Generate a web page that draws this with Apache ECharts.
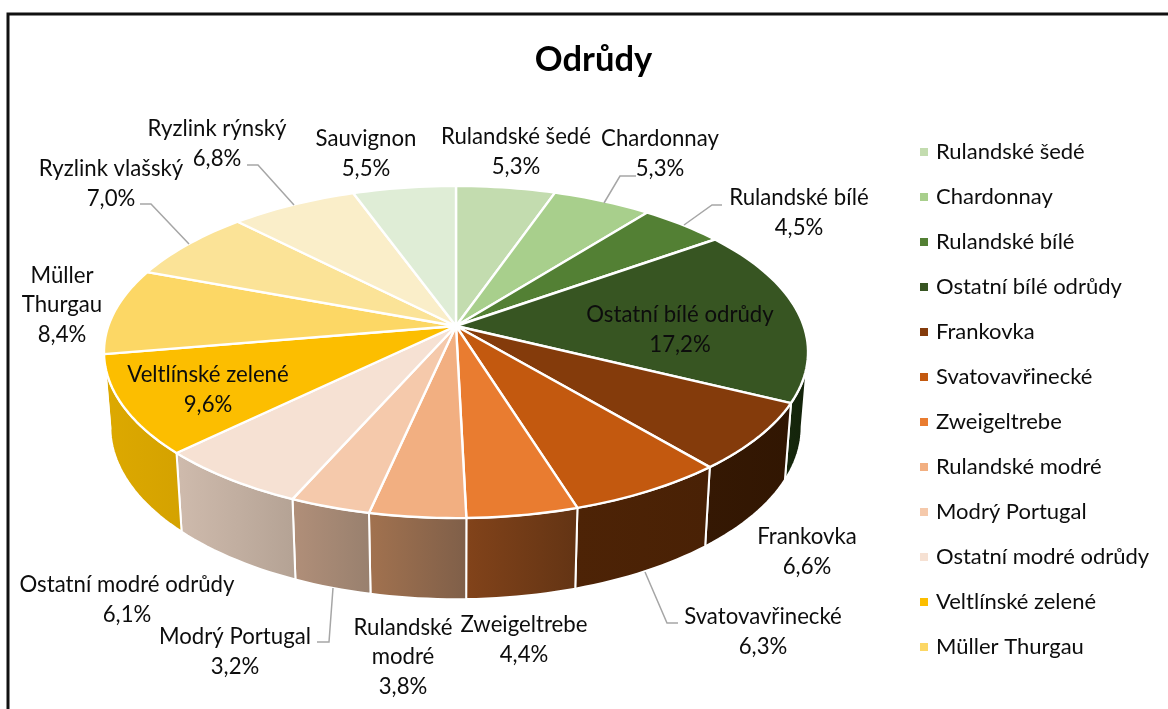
<!DOCTYPE html>
<html><head><meta charset="utf-8">
<style>html,body{margin:0;padding:0;background:#fff}#c{width:1168px;height:709px}</style>
<script src="https://cdn.jsdelivr.net/npm/echarts@6/dist/echarts.min.js"></script>
</head><body><div id="c"></div>
<script>
const categories = ['Rulandské šedé','Chardonnay','Rulandské bílé','Ostatní bílé odrůdy','Frankovka','Svatovavřinecké','Zweigeltrebe','Rulandské modré','Modrý Portugal','Ostatní modré odrůdy','Veltlínské zelené','Müller Thurgau','Ryzlink vlašský','Ryzlink rýnský','Sauvignon'];
const values = [5.3,5.3,4.5,17.2,6.6,6.3,4.4,3.8,3.2,6.1,9.6,8.4,7.0,6.8,5.5];
const legendNames = categories.slice(0,12);
const topColors = ['#C3DCAF','#A8CF8C','#538034','#375522','#843B0B','#C3590F','#E97C30','#F2AF81','#F5C9AB','#F6E1D3','#FCBE00','#FCD765','#FBE397','#FAEEC9','#DFEDD6'];
const wallLeft  = ['#7a8f68','#6a8258','#34501f','#16280D','#351803','#4D2306','#82431A','#A2724F','#B18F79','#CFBBAD','#DDA900','#a89040','#a89660','#a89f80','#929c8a'];
const wallRight = ['#7a8f68','#6a8258','#34501f','#13220A','#311602','#492105','#633414','#7F5F49','#98806E','#B4A294','#D4A200','#a89040','#a89660','#a89f80','#929c8a'];
const labelText = ['Rulandské šedé','Chardonnay','Rulandské bílé','Ostatní bílé odrůdy','Frankovka','Svatovavřinecké','Zweigeltrebe','Rulandské\nmodré','Modrý Portugal','Ostatní modré odrůdy','Veltlínské zelené','Müller\nThurgau','Ryzlink vlašský','Ryzlink rýnský','Sauvignon'];
const labelPos = [[516,152],[660,154],[799,213],[680,330],[807,552],[763,632],[524,640],[403,657],[235,652],[127,600],[208,390],[62,305],[111,184],[217,144],[366,154]];
const leaders = {1:[[636,176],[620,176],[604,203]],2:[[722,205],[712,205],[684,225]],5:[[678,623],[667,623],[645,572]],8:[[317,642],[329,642],[333,588]],12:[[140,204],[151,204],[189,244]],13:[[247,165],[258,165],[294,205]]};

const total = values.reduce((a,b)=>a+b,0);
const K = 0.1566;
const topPlane = {cx:456, cy:326, rx:347.7, ry:162};
const botPlane = {cx:456, cy:400, rx:341.4, ry:168};
function proj(p,deg){
  const t = deg*Math.PI/180, u = Math.sin(t), v = -Math.cos(t), d = 1-K*v;
  return [p.cx+p.rx*u/d, p.cy+p.ry*v/d];
}
function arc(p,a,b){
  const n = Math.max(2,Math.ceil(Math.abs(b-a)/1.5)), out=[];
  for(let i=0;i<=n;i++) out.push(proj(p,a+(b-a)*i/n));
  return out;
}
const WALL_FROM = 99, WALL_TO = 261;
const FONT = 'Lato';
function renderSlice(idx){
  return function(params,api){
    const a = api.value(0)/total*360, b = (api.value(0)+api.value(1))/total*360;
    const children = [];
    const wa = Math.max(a,WALL_FROM), wb = Math.min(b,WALL_TO);
    if (wb>wa){
      const pts = arc(topPlane,wa,wb).concat(arc(botPlane,wb,wa));
      children.push({type:'polygon',z2:1,shape:{points:pts},style:{
        fill:new echarts.graphic.LinearGradient(0,0,1,0,[{offset:0,color:wallLeft[idx]},{offset:1,color:wallRight[idx]}]),
        stroke:'#fff',lineWidth:2,lineJoin:'round'}});
    }
    const top = [[topPlane.cx,topPlane.cy]].concat(arc(topPlane,a,b));
    children.push({type:'polygon',z2:2,shape:{points:top},style:{fill:topColors[idx],stroke:'#fff',lineWidth:2.4,lineJoin:'round'}});
    if (leaders[idx]) children.push({type:'polyline',z2:3,shape:{points:leaders[idx]},style:{fill:null,stroke:'#A6A6A6',lineWidth:1.5}});
    const pct = api.value(1).toFixed(1).replace('.',',')+'%';
    children.push({type:'text',z2:5,x:labelPos[idx][0],y:labelPos[idx][1],style:{
      text:labelText[idx]+'\n'+pct,fill:'#0d0d0d',font:'22.2px '+FONT,align:'center',verticalAlign:'middle',lineHeight:29.5}});
    return {type:'group',children};
  };
}
let cum = 0;
const series = categories.map((name,i)=>{
  const s = {type:'custom',name,coordinateSystem:'none',silent:true,itemStyle:{color:topColors[i]},
    renderItem:renderSlice(i),data:[[cum,values[i]]]};
  cum += values[i];
  return s;
});
const chart = echarts.init(document.getElementById('c'),null,{renderer:'canvas'});
chart.setOption({
  animation:false,backgroundColor:'#fff',
  title:{text:'Odrůdy',left:588.5,top:37,textAlign:'center',textStyle:{fontFamily:FONT,fontSize:34.5,fontWeight:'bold',color:'#000'}},
  legend:{orient:'vertical',left:915,top:132,data:legendNames,icon:'rect',itemWidth:8,itemHeight:8,itemGap:15,selectedMode:false,
    textStyle:{fontFamily:FONT,fontSize:22,color:'#0d0d0d',lineHeight:30,padding:[0,0,0,3]}},
  graphic:[{type:'polyline',z:100,silent:true,shape:{points:[[8,709],[8,14],[1168,14]]},style:{fill:null,stroke:'#111',lineWidth:3}}],
  series
});
</script></body></html>
